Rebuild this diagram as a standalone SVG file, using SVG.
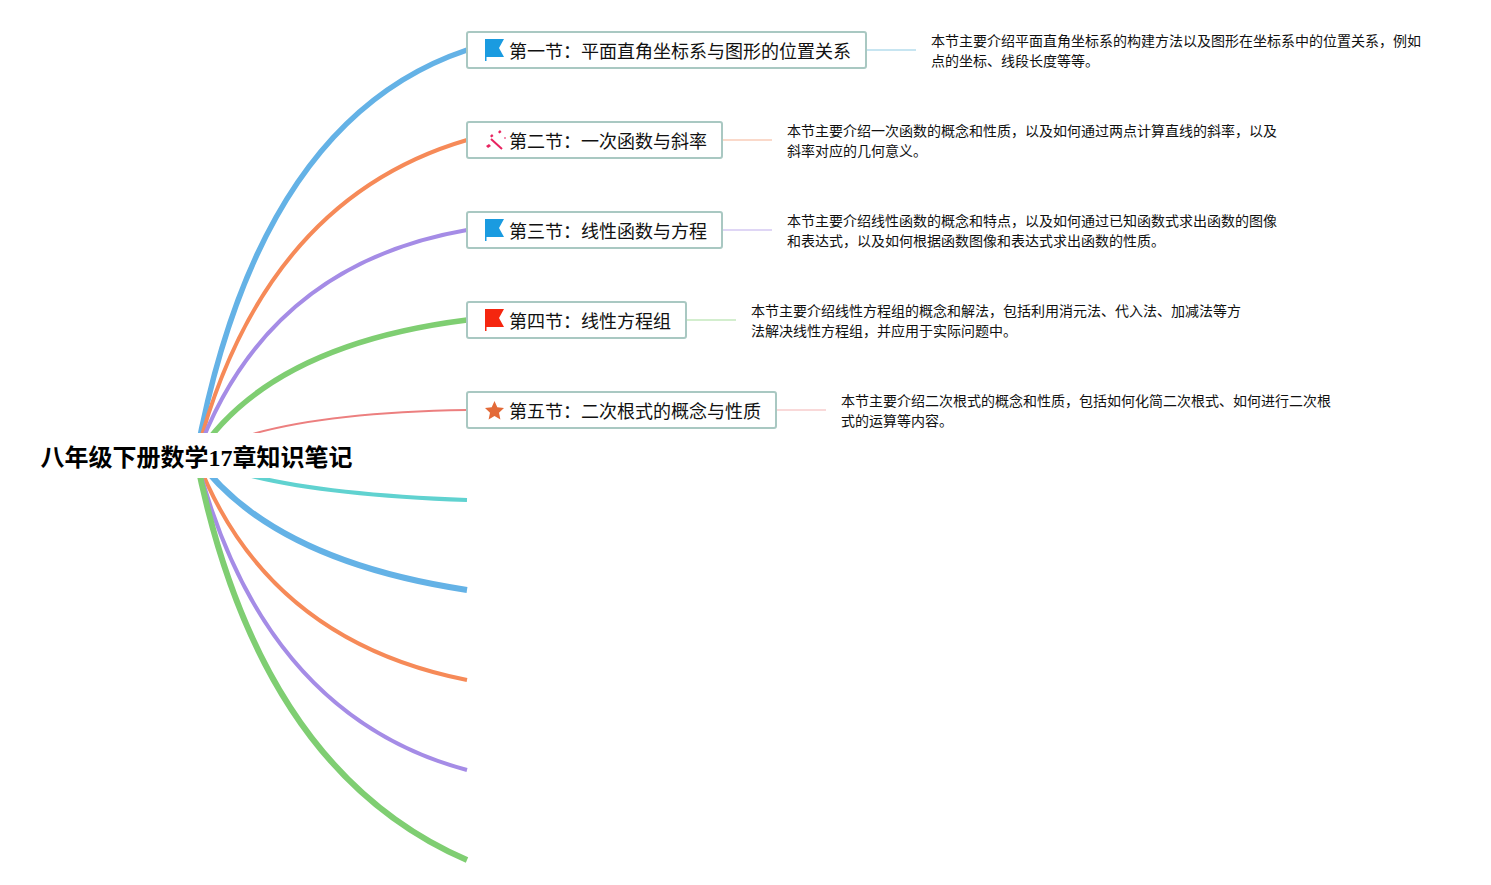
<svg xmlns="http://www.w3.org/2000/svg" width="1491" height="885" viewBox="0 0 1491 885">
<style>
text{font-family:"Liberation Serif","Noto Sans CJK SC",sans-serif;fill:#111}
.t{font-size:18px}.d{font-size:14px}.c{font-size:24px;font-weight:700;fill:#000}
.b{fill:#fff;stroke:#a9c8c2;stroke-width:2}
.l{fill:none}
</style>
<rect width="1491" height="885" fill="#fff"/>
<g id="connectors" class="l">
<path d="M196 457Q258 120 467 50" stroke="#64b2e6" stroke-width="5.500"/>
<path d="M196 457Q262 200 467 140" stroke="#f68a58" stroke-width="4"/>
<path d="M196 457Q265 265 467 230" stroke="#a58ce6" stroke-width="4"/>
<path d="M196 457Q268 345 467 320" stroke="#7fce72" stroke-width="5.500"/>
<path d="M196 457Q270 413 467 410" stroke="#ec7f7f" stroke-width="2"/>
<path d="M196 457Q270 493 467 500" stroke="#60d2d0" stroke-width="4"/>
<path d="M196 457Q270 560 467 590" stroke="#64b2e6" stroke-width="6"/>
<path d="M196 457Q265 640 467 680" stroke="#f68a58" stroke-width="4"/>
<path d="M196 457Q262 715 467 770" stroke="#a58ce6" stroke-width="4"/>
<path d="M196 457Q258 770 467 860" stroke="#7fce72" stroke-width="6"/>
<path d="M866 50H916" stroke="#b5dcec" stroke-width="1.500"/>
<path d="M722 140H772" stroke="#f8cdb8" stroke-width="1.500"/>
<path d="M722 230H772" stroke="#d5c9f2" stroke-width="1.500"/>
<path d="M686 320H736" stroke="#c5e8be" stroke-width="1.500"/>
<path d="M776 410H826" stroke="#f7cccc" stroke-width="1.500"/>
</g>
<g id="root"><rect x="28" y="433" width="336" height="45" fill="#fff"/><text class="c" x="40.500" y="466">八年级下册数学17章知识笔记</text></g>
<g id="n1"><rect class="b" x="467" y="32" width="399" height="36" rx="2"/>
<path d="M485 39H504L499 48L504 57H486.500V61H485Z" fill="#1a9be0"/>
<text class="t" x="509" y="58">第一节：平面直角坐标系与图形的位置关系</text>
<text class="d" x="931" y="46">本节主要介绍平面直角坐标系的构建方法以及图形在坐标系中的位置关系，例如</text><text class="d" x="931" y="66">点的坐标、线段长度等等。</text></g>
<g id="n2"><rect class="b" x="467" y="122" width="255" height="36" rx="2"/>
<path d="M491 139L502 149" stroke="#e8235f" stroke-width="2"/><path d="M486 146l3 -2 2 2 -3 2zM490 136l2 -2 1.500 2 -2 1.500zM498 132l2 -2 1.500 2 -2 1.500zM504 138l1 -1 1 1 -1 1z" fill="#e8235f"/>
<text class="t" x="509" y="148">第二节：一次函数与斜率</text>
<text class="d" x="787" y="136">本节主要介绍一次函数的概念和性质，以及如何通过两点计算直线的斜率，以及</text><text class="d" x="787" y="156">斜率对应的几何意义。</text></g>
<g id="n3"><rect class="b" x="467" y="212" width="255" height="36" rx="2"/>
<path d="M485 219H504L499 228L504 237H486.500V241H485Z" fill="#1a9be0"/>
<text class="t" x="509" y="238">第三节：线性函数与方程</text>
<text class="d" x="787" y="226">本节主要介绍线性函数的概念和特点，以及如何通过已知函数式求出函数的图像</text><text class="d" x="787" y="246">和表达式，以及如何根据函数图像和表达式求出函数的性质。</text></g>
<g id="n4"><rect class="b" x="467" y="302" width="219" height="36" rx="2"/>
<path d="M485 309H504L499 318L504 327H486.500V331H485Z" fill="#f5260f"/>
<text class="t" x="509" y="328">第四节：线性方程组</text>
<text class="d" x="751" y="316">本节主要介绍线性方程组的概念和解法，包括利用消元法、代入法、加减法等方</text><text class="d" x="751" y="336">法解决线性方程组，并应用于实际问题中。</text></g>
<g id="n5"><rect class="b" x="467" y="392" width="309" height="36" rx="2"/>
<path d="M494.500 401L497.300 407.200 504 408 499 412.700 500.400 419.500 494.500 416 488.600 419.500 490 412.700 485 408 491.700 407.200Z" fill="#e36a38"/>
<text class="t" x="509" y="418">第五节：二次根式的概念与性质</text>
<text class="d" x="841" y="406">本节主要介绍二次根式的概念和性质，包括如何化简二次根式、如何进行二次根</text><text class="d" x="841" y="426">式的运算等内容。</text></g>
</svg>
